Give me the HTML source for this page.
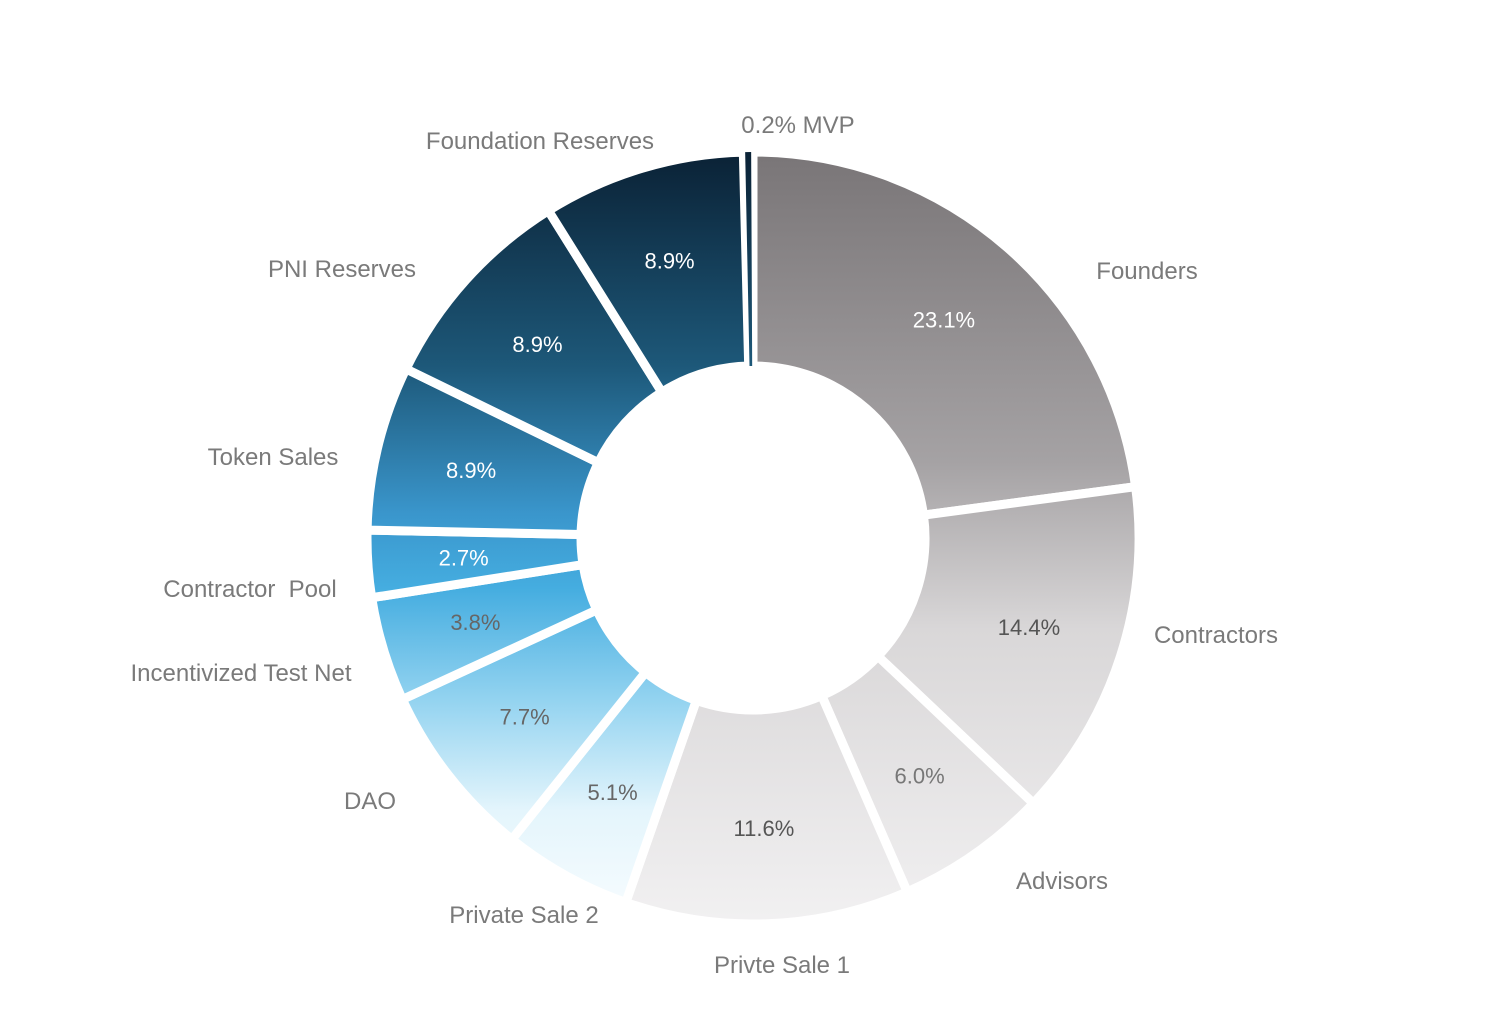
<!DOCTYPE html>
<html><head><meta charset="utf-8">
<style>
html,body{margin:0;padding:0;background:#fff;}
svg{display:block;font-family:"Liberation Sans",sans-serif;}
</style></head>
<body>
<svg id="chart" width="1488" height="1034" viewBox="0 0 1488 1034" xmlns="http://www.w3.org/2000/svg">
<defs>
<linearGradient id="blueGrad" gradientUnits="userSpaceOnUse" x1="0" y1="158" x2="0" y2="900">
<stop offset="0" stop-color="#0b2337"/>
<stop offset="0.28" stop-color="#1d5879"/>
<stop offset="0.48" stop-color="#3a96cc"/>
<stop offset="0.58" stop-color="#45ade0"/>
<stop offset="0.73" stop-color="#93d3f0"/>
<stop offset="0.88" stop-color="#e4f5fc"/>
<stop offset="1" stop-color="#f4fbfe"/>
</linearGradient>
<linearGradient id="grayGrad" gradientUnits="userSpaceOnUse" x1="0" y1="158" x2="0" y2="918">
<stop offset="0" stop-color="#7a7678"/>
<stop offset="0.4" stop-color="#a5a2a4"/>
<stop offset="0.62" stop-color="#d9d7d8"/>
<stop offset="1" stop-color="#f1f0f1"/>
</linearGradient>
</defs>
<g id="slices"></g>
<g id="labels"></g>
</svg>
<script>
const categories = ["Founders","Contractors","Advisors","Privte Sale 1","Private Sale 2","DAO","Incentivized Test Net","Contractor  Pool","Token Sales","PNI Reserves","Foundation Reserves","MVP"];
const values = [22.9,14.2,6.4,11.9,5.4,7.4,4.4,2.8,6.9,8.9,8.5,0.4];
const valueLabels = ["23.1%","14.4%","6.0%","11.6%","5.1%","7.7%","3.8%","2.7%","8.9%","8.9%","8.9%",""];
const groups = ["gray","gray","gray","gray","blue","blue","blue","blue","blue","blue","blue","blue"];

const cx=753, cy=538, R=386, r0=172;
const labelPos=[[1147,271,"middle"],[1216,635,"middle"],[1062,881,"middle"],[782,965,"middle"],[524,915,"middle"],[370,801,"middle"],[241,673,"middle"],[250,589,"middle"],[273,457,"middle"],[342,269,"middle"],[540,141,"middle"],[798,125,"middle"]];
const valueText=["#fff","#555","#777","#555","#666","#666","#666","#fff","#fff","#fff","#fff","#fff"];
const total=values.reduce((a,b)=>a+b,0);
const ang=v=>v/total*Math.PI*2;
const pt=(a,rr)=>[cx+rr*Math.sin(a), cy-rr*Math.cos(a)];
const NS="http://www.w3.org/2000/svg";
const gS=document.getElementById('slices'), gL=document.getElementById('labels');
function wedge(a0,a1){
  const large=(a1-a0)>Math.PI?1:0;
  const [x0,y0]=pt(a0,R),[x1,y1]=pt(a1,R),[x2,y2]=pt(a1,r0),[x3,y3]=pt(a0,r0);
  return `M${x0},${y0} A${R},${R} 0 ${large} 1 ${x1},${y1} L${x2},${y2} A${r0},${r0} 0 ${large} 0 ${x3},${y3} Z`;
}
let a0=0;
let small=[];
values.forEach((v,i)=>{
  const a1=a0+ang(v);
  const p=document.createElementNS(NS,'path');
  const tiny=(a1-a0)*R<14;
  if(tiny){
    const m=(a0+a1)/2, h=Math.max((a1-a0)*0.25, 3/R);
    p.setAttribute('d',wedge(m-h,m+h));
    small.push(p);
  } else {
    p.setAttribute('d',wedge(a0,a1));
    p.setAttribute('stroke','#fff');
    p.setAttribute('stroke-width','9');
  }
  p.setAttribute('fill', groups[i]==='blue'?'url(#blueGrad)':'url(#grayGrad)');
  
  
  if(!tiny) gS.appendChild(p);
  if(valueLabels[i]){
    const [tx,ty]=pt((a0+a1)/2,290);
    const t=document.createElementNS(NS,'text');
    t.setAttribute('x',tx);t.setAttribute('y',ty+8);
    t.setAttribute('text-anchor','middle');t.setAttribute('font-size','22');
    t.setAttribute('fill',valueText[i]);
    t.textContent=valueLabels[i];
    
    
    gL.appendChild(t);
  }
  const lp=labelPos[i];
  const t2=document.createElementNS(NS,'text');
  t2.setAttribute('x',lp[0]);t2.setAttribute('y',lp[1]+8);
  t2.setAttribute('text-anchor',lp[2]);t2.setAttribute('font-size','24');
  t2.setAttribute('fill','#7a7a7a');
  t2.style.whiteSpace='pre';
  t2.textContent = i===11 ? "0.2% MVP" : categories[i];
  
  
  gL.appendChild(t2);
  a0=a1;
});
small.forEach(p=>gS.appendChild(p));
</script>
</body></html>
